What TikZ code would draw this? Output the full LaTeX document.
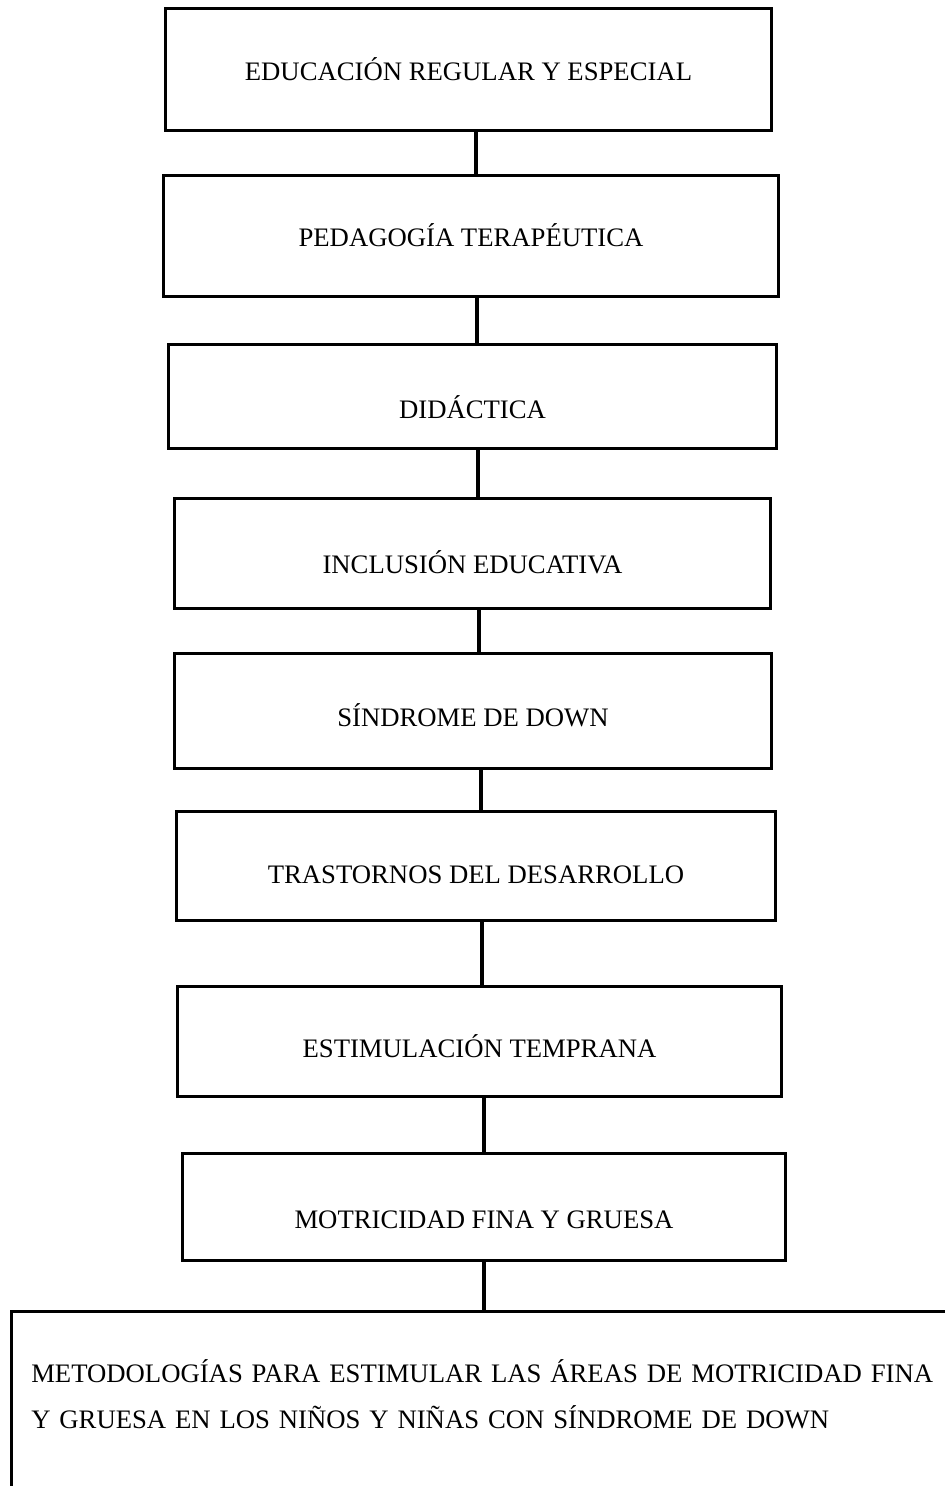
\documentclass[tikz,border=0pt]{standalone}
\usepackage{fontspec}
\setmainfont{Liberation Serif}
\usetikzlibrary{positioning}

\begin{document}
\begin{tikzpicture}[x=1pt,y=-1pt,line width=3.5pt,box/.style={rectangle, draw, inner sep=0pt, text depth=0pt, font=\fontsize{26.7}{46}\selectfont}]
		\useasboundingbox (0,0) rectangle (945,1486);
		\node[box, minimum width=606, minimum height=122, text height=22.7pt	] (EDU) 	at (468.5,69.5)		{EDUCACIÓN REGULAR Y ESPECIAL};
		\node[box, minimum width=615, minimum height=121, text height=21.7pt	] (PED) 	at (471,236)		{PEDAGOGÍA TERAPÉUTICA};
		\node[box, minimum width=608, minimum height=104, text height=44.7pt	] (DID) 	at (472.5,396.5)	{DIDÁCTICA};
		\node[box, minimum width=596, minimum height=110, text height=40.7pt	] (INC) 	at (472.5,553.5)	{INCLUSIÓN EDUCATIVA};
		\node[box, minimum width=597, minimum height=115, text height=31.7pt	] (SIN) 	at (473,711)		{SÍNDROME DE DOWN};
		\node[box, minimum width=599, minimum height=109, text height=35.7pt	] (TRA) 	at (476,866)		{TRASTORNOS DEL DESARROLLO};
		\node[box, minimum width=604, minimum height=110, text height=32.7pt	] (EST) 	at (479.5,1041.5)	{ESTIMULACIÓN TEMPRANA};
		\node[box, minimum width=603, minimum height=107, text height=43.7pt	] (MOT) 	at (484,1207)		{MOTRICIDAD FINA Y GRUESA};
		\node[box, anchor=north west, minimum width=960, minimum height=200, text width=920, inner xsep=20pt, align=left, text depth=81pt] (METODO) at (9.5,1309.5)
			{METODOLOGÍAS PARA ESTIMULAR LAS ÁREAS DE MOTRICIDAD FINA\\Y GRUESA EN LOS NIÑOS Y NIÑAS CON SÍNDROME DE DOWN};

		\draw	(EDU.south -| 476,0)	--	(PED.north -| 476,0)
				(PED.south -| 477,0)	--	(DID.north -| 477,0)
				(DID.south -| 478,0)	--	(INC.north -| 478,0)
				(INC.south -| 479,0)	--	(SIN.north -| 479,0)
				(SIN.south -| 481,0)	--	(TRA.north -| 481,0)
				(TRA.south -| 482,0)	--	(EST.north -| 482,0)
				(EST.south -| 484,0)	--	(MOT.north -| 484,0)
				(MOT.south -| 484,0)	--	(METODO.north -| 484,0)
				;
	\end{tikzpicture}
\end{document}
